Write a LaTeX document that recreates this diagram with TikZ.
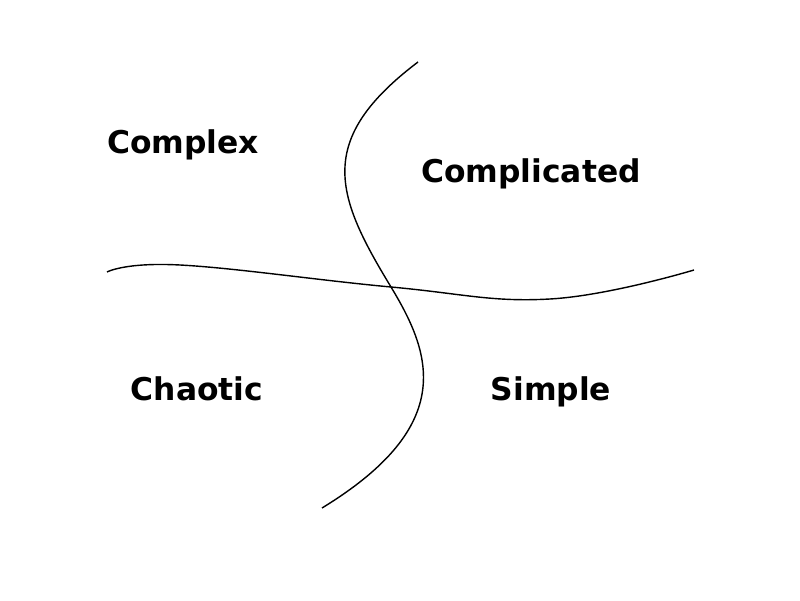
\documentclass[tikz,border=0pt]{standalone}
\usepackage{fontspec}
\setmainfont{DejaVu Sans}
\usepackage{xcolor}

\begin{document}
\begin{tikzpicture}

        \useasboundingbox (0,0) rectangle (20,15);

        \tikzset{quadlabel/.style={font=\fontsize{22.3}{26}\selectfont\bfseries, inner sep=0pt}}

        % boundaries

        \coordinate (top) at (10.45,13.45);
        \coordinate (cross) at (9.775,7.825);
        \coordinate (bottom) at (8.05,2.3);

        \draw[black, line width=1pt] (top) .. controls (7.875,11.5) and (8.375,10.125) .. (cross)
                                           .. controls (10.775,6.175) and (11.45,4.375) .. (bottom); % vertical
        \draw[black, line width=1pt] plot[smooth, tension=0.7] coordinates {(2.675,8.2) (4.5,8.375) (9.775,7.825) (13.75,7.525) (17.35,8.25)}; % horizontal

        % domains

        \node[quadlabel] (complex) at (4.575,11.375) {Complex};
        \node[quadlabel] (complicated) at (13.275,10.65) {Complicated};
        \node[quadlabel] (chaotic) at (4.925,5.275) {Chaotic};
        \node[quadlabel] (simple) at (13.775,5.2) {Simple};

    \end{tikzpicture}
\end{document}
